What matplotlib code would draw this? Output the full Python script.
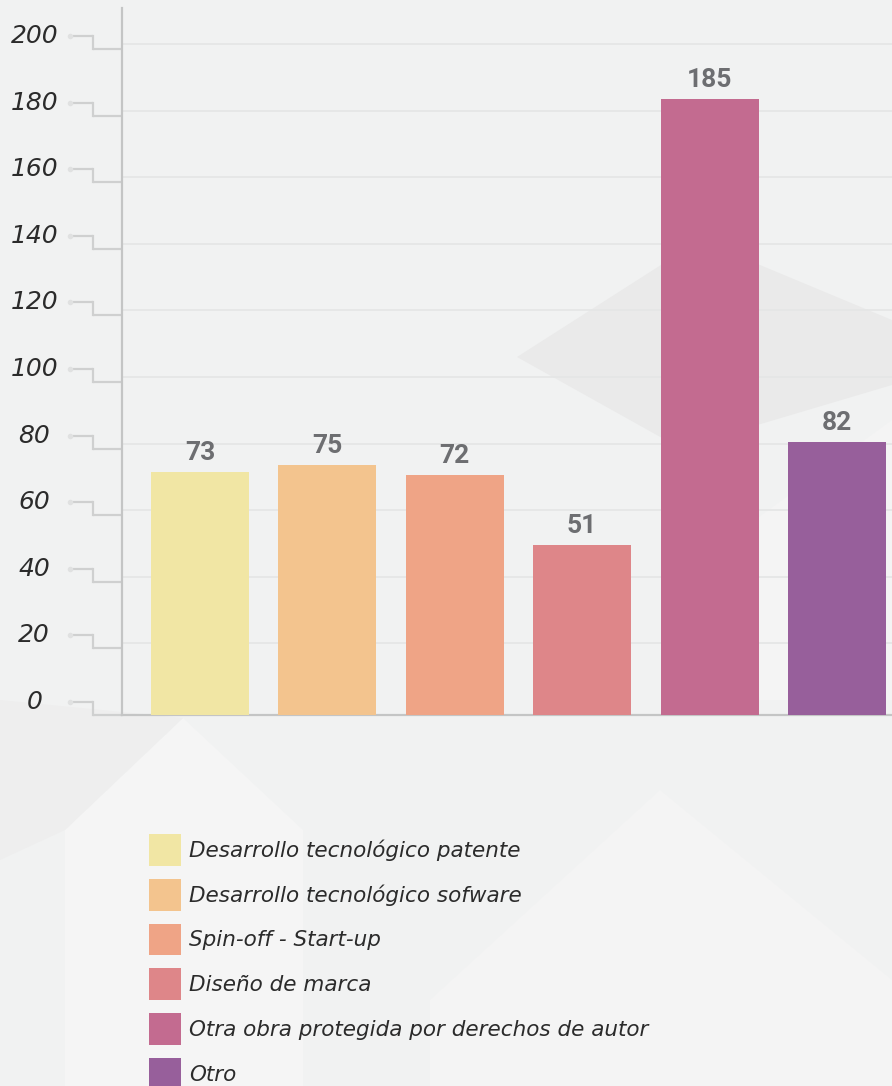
import numpy as np
import matplotlib
matplotlib.use('Agg')
import matplotlib.pyplot as plt
from matplotlib.patches import Patch, Polygon
from matplotlib.transforms import offset_copy

categories = ['Desarrollo tecnológico patente', 'Desarrollo tecnológico sofware',
              'Spin-off - Start-up', 'Diseño de marca',
              'Otra obra protegida por derechos de autor', 'Otro']
values = [73, 75, 72, 51, 185, 82]
colors = ['#f1e6a4', '#f3c48e', '#efa486', '#de8689', '#c36b90', '#975f9b']
yticks = [0, 20, 40, 60, 80, 100, 120, 140, 160, 180, 200]

W, H = 892, 1086
bg = '#f1f2f2'
fig = plt.figure(figsize=(W / 100, H / 100), dpi=100, facecolor=bg)

# faint geometric background shapes (pixel coords, y from top)
def px(pts):
    return [(x / W, 1 - y / H) for x, y in pts]

shapes = [
    ([(517, 357), (700, 240), (892, 320), (892, 385), (680, 448)], '#eaeaea'),
    ([(65, 830), (183, 718), (303, 830), (303, 1086), (65, 1086)], '#f5f5f5'),
    ([(0, 700), (0, 860), (65, 830), (183, 718)], '#eeeeee'),
    ([(430, 1000), (660, 790), (892, 980), (892, 1086), (430, 1086)], '#f4f4f4'),
    ([(700, 560), (892, 420), (892, 700), (760, 700)], '#f4f4f4'),
]
for pts, c in shapes:
    fig.patches.append(Polygon(px(pts), closed=True, facecolor=c, edgecolor='none',
                               transform=fig.transFigure, zorder=-5))

ax = fig.add_axes([122 / W, 371 / H, 770 / W, 707 / H])
ax.set_facecolor('none')
ax.set_zorder(2)

x = np.arange(len(values))
ax.bar(x, values, width=0.77, color=colors, zorder=3)
for xi, v in zip(x, values):
    ax.annotate(str(v), (xi, v), xytext=(0, 5), textcoords='offset points',
                ha='center', va='bottom', fontsize=19, fontweight='bold',
                family='Roboto', color='#6d6e71', zorder=4)

ax.set_xlim(-0.612, 5.432)
ax.set_ylim(0, 212.3)
ax.set_xticks([])
ax.set_yticks([])
for s in ['top', 'right']:
    ax.spines[s].set_visible(False)
for s in ['left', 'bottom']:
    ax.spines[s].set_color('#c4c5c5')
    ax.spines[s].set_linewidth(1.6)

# gridlines, drawn a little above the tick level like the original
grid_tr = offset_copy(ax.get_yaxis_transform(), fig=fig, y=5, units='dots')
for v in yticks[1:]:
    ax.plot([0, 1], [v, v], color='#e5e6e6', lw=1.3, transform=grid_tr, zorder=1)

# stepped tick marks with labels
base_tr = ax.get_yaxis_transform()
up_tr = offset_copy(base_tr, fig=fig, y=13, units='dots')
for v in yticks:
    ax.plot([-0.0636, -0.0377], [v, v], color='#cfd0d0', lw=1.6,
            transform=up_tr, clip_on=False, solid_capstyle='butt')
    ax.plot([-0.0377, 0], [v, v], color='#cfd0d0', lw=1.6,
            transform=base_tr, clip_on=False, solid_capstyle='butt')
    y0 = base_tr.transform((0, v))[1]
    y1 = up_tr.transform((0, v))[1]
    xs = base_tr.transform((-0.0377, v))[0]
    fig.add_artist(plt.Line2D([xs / W] * 2, [y0 / H, y1 / H],
                              color='#cfd0d0', lw=1.6, transform=fig.transFigure))
    ax.plot([-0.0675], [v], 'o', ms=3, color='#e0e1e1', transform=up_tr, clip_on=False)
    ax.text(-0.114, v, str(v), transform=up_tr, ha='center', va='center',
            fontsize=18, style='italic', color='#2b2b2b', family='DejaVu Sans')

handles = [Patch(facecolor=c, edgecolor='none') for c in colors]
fig.legend(handles, categories, loc='upper left',
           bbox_to_anchor=(149 / W, 1 - 834 / H), bbox_transform=fig.transFigure,
           frameon=False, prop={'style': 'italic', 'family': 'DejaVu Sans', 'size': 15.5},
           handlelength=1.48, handleheight=1.9, labelspacing=0.6, handletextpad=0.4,
           borderpad=0, borderaxespad=0, labelcolor='#2b2b2b')

fig.savefig('out.png', dpi=100, facecolor=bg)
